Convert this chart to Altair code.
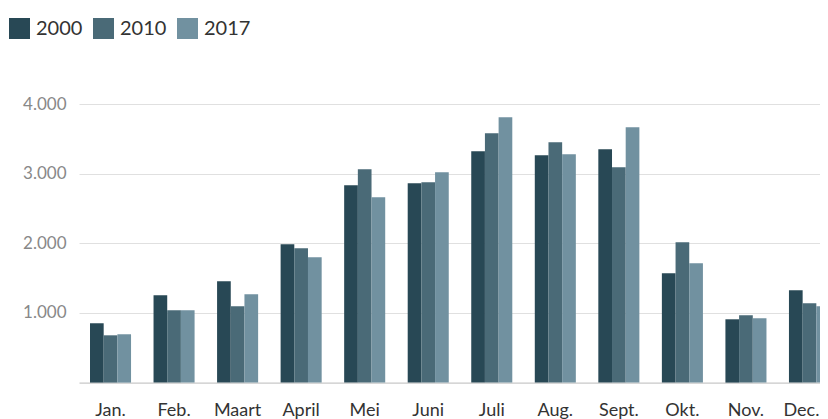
import altair as alt
import pandas as pd

months = ["Jan.", "Feb.", "Maart", "April", "Mei", "Juni", "Juli", "Aug.", "Sept.", "Okt.", "Nov.", "Dec."]
years = ["2000", "2010", "2017"]
v2000 = [852, 1254, 1455, 1986, 2833, 2861, 3321, 3263, 3349, 1569, 909, 1325]
v2010 = [679, 1038, 1096, 1928, 3062, 2876, 3579, 3450, 3091, 2014, 967, 1139]
v2017 = [694, 1038, 1268, 1799, 2660, 3019, 3809, 3278, 3665, 1713, 923, 1096]
colors = ["#284855", "#4a6a77", "#7191a0"]

rows = []
for yr, vals in zip(years, [v2000, v2010, v2017]):
    for m, v in zip(months, vals):
        rows.append({"maand": m, "jaar": yr, "waarde": v})
df = pd.DataFrame(rows)

chart = alt.Chart(df).mark_bar().encode(
    x=alt.X("maand:N", sort=months, title=None,
            scale=alt.Scale(paddingInner=0.354, paddingOuter=0.173, range=[0, 762]),
            axis=alt.Axis(labelAngle=0, labelFont="Lato", labelFontSize=18,
                          labelColor="#333333", labelPadding=19, ticks=False,
                          labelOffset={"condition": {"test": "datum.value === 'Dec.'", "value": -8},
                                       "value": 0},
                          domain=True, domainColor="#bbbbbb", domainWidth=1, grid=False)),
    xOffset=alt.XOffset("jaar:N", sort=years,
                        scale=alt.Scale(paddingInner=0, paddingOuter=0)),
    y=alt.Y("waarde:Q", title=None,
            scale=alt.Scale(domain=[0, 4000], nice=False),
            axis=alt.Axis(values=[1000, 2000, 3000, 4000], labelFont="Lato", labelFontSize=17,
                          labelColor="#888888", labelPadding=13, ticks=False, domain=False,
                          gridColor="#e0e0e0", gridWidth=1,
                          labelExpr="replace(format(datum.value, ','), ',', '.')")),
    color=alt.Color("jaar:N", sort=years, scale=alt.Scale(domain=years, range=colors),
                    legend=alt.Legend(title=None, orient="none", direction="horizontal",
                                      legendX=-70, legendY=-86, symbolType="square",
                                      symbolSize=441, symbolStrokeWidth=0, symbolOpacity=1,
                                      labelFont="Lato", labelFontSize=20, labelColor="#333333",
                                      labelOffset=6, columnPadding=10)),
).properties(
    width=741, height=278.6,
    autosize=alt.AutoSizeParams(type="none"),
    padding={"left": 71, "top": 96, "right": 0, "bottom": 45.4},
).configure_view(stroke=None)

chart.save("out.html", embed_options={"renderer": "svg", "actions": False})
